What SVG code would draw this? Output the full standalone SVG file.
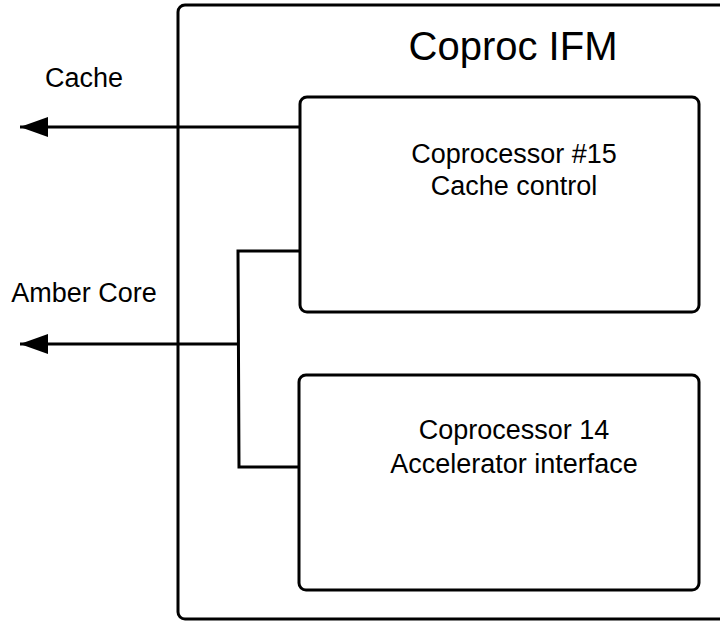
<svg xmlns="http://www.w3.org/2000/svg" width="720" height="621" viewBox="0 0 720 621">
  <style>
    .box { fill: #ffffff; stroke: #000000; stroke-width: 3; }
    .wire { fill: none; stroke: #000000; stroke-width: 3; }
    .lbl { font-family: "Liberation Sans", Arial, sans-serif; font-size: 27px; fill: #000000; text-anchor: middle; }
    .title { font-size: 40px; }
  </style>
  <defs>
    <marker id="arrow" viewBox="0 0 28 20" refX="28" refY="10" markerWidth="28" markerHeight="20" markerUnits="userSpaceOnUse" orient="auto">
      <path d="M0,0 L28,10 L0,20 Z" fill="#000000"/>
    </marker>
  </defs>
  <rect width="720" height="621" fill="#ffffff"/>

  <g id="coproc-ifm">
    <rect class="box" x="178" y="5" width="570" height="614" rx="7"/>
    <text class="lbl title" x="513" y="60">Coproc IFM</text>
  </g>

  <g id="connectors">
    <!-- Cache bus -->
    <path class="wire" d="M300,127 L20,127" marker-end="url(#arrow)"/>
    <!-- Amber core bus with branch to both coprocessors -->
    <path class="wire" d="M238,344 L20,344" marker-end="url(#arrow)"/>
    <path class="wire" d="M300,251 L238,251 L239,467 L298,467"/>
  </g>

  <g id="cp15">
    <rect class="box" x="300" y="97" width="399" height="215" rx="7"/>
    <text class="lbl" x="514" y="163">Coprocessor #15</text>
    <text class="lbl" x="514" y="195">Cache control</text>
  </g>

  <g id="cp14">
    <rect class="box" x="299" y="375" width="400" height="215" rx="7"/>
    <text class="lbl" x="514" y="439">Coprocessor 14</text>
    <text class="lbl" x="514" y="473">Accelerator interface</text>
  </g>

  <g id="labels">
    <text class="lbl" x="84" y="87">Cache</text>
    <text class="lbl" x="84" y="302">Amber Core</text>
  </g>
</svg>
